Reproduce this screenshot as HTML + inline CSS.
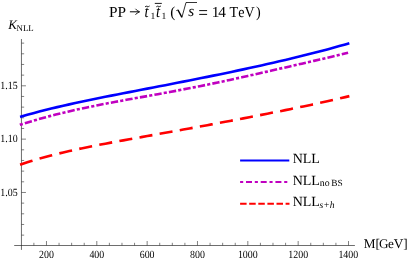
<!DOCTYPE html>
<html><head><meta charset="utf-8">
<style>
html,body{margin:0;padding:0;background:#fff;}
body{width:407px;height:260px;overflow:hidden;font-family:"Liberation Serif",serif;}
svg{display:block;position:absolute;left:0;top:0;will-change:transform;}
text{text-rendering:geometricPrecision;font-family:"Liberation Serif",serif;fill:#000;}
.tk{font-size:11px;}
.m{font-size:13px;}
.s{font-size:8.8px;}
.i{font-style:italic;}
.tt text{font-size:15.3px;}
.lg text{font-size:14px;}
.ml text{font-size:13.2px;}
.lg text.s{font-size:9.1px;}
.tt text.s{font-size:9.6px;}
</style></head><body>
<svg width="407" height="260" viewBox="0 0 407 260">
<rect width="407" height="260" fill="#fff"/>
<!-- axes -->
<g stroke="#222" stroke-width="0.66" fill="none">
<path d="M14.2 245.5H354.9"/>
<path d="M21.45 39V249.9"/>
</g>
<g stroke="#333" stroke-width="0.62" fill="none">
<path d="M33.88 245.5V242.80M46.47 245.5V241.00M59.05 245.5V242.80M71.64 245.5V242.80M84.22 245.5V242.80M96.81 245.5V241.00M109.39 245.5V242.80M121.98 245.5V242.80M134.56 245.5V242.80M147.15 245.5V241.00M159.73 245.5V242.80M172.32 245.5V242.80M184.90 245.5V242.80M197.48 245.5V241.00M210.07 245.5V242.80M222.65 245.5V242.80M235.24 245.5V242.80M247.82 245.5V241.00M260.41 245.5V242.80M272.99 245.5V242.80M285.58 245.5V242.80M298.16 245.5V241.00M310.75 245.5V242.80M323.33 245.5V242.80M335.92 245.5V242.80M348.50 245.5V241.00M21.45 235.13H24.15M21.45 224.47H24.15M21.45 213.80H24.15M21.45 203.13H24.15M21.45 192.47H25.95M21.45 181.80H24.15M21.45 171.13H24.15M21.45 160.46H24.15M21.45 149.80H24.15M21.45 139.13H25.95M21.45 128.46H24.15M21.45 117.80H24.15M21.45 107.13H24.15M21.45 96.46H24.15M21.45 85.80H25.95M21.45 75.13H24.15M21.45 64.46H24.15M21.45 53.79H24.15M21.45 43.13H24.15"/>
</g>
<!-- tick labels -->
<g class="tk" text-anchor="middle">
<text transform="translate(46.4 257.7) scale(0.9 1)">200</text>
<text transform="translate(96.8 257.7) scale(0.9 1)">400</text>
<text transform="translate(147.1 257.7) scale(0.9 1)">600</text>
<text transform="translate(197.5 257.7) scale(0.9 1)">800</text>
<text transform="translate(247.8 257.7) scale(0.9 1)">1000</text>
<text transform="translate(298.2 257.7) scale(0.9 1)">1200</text>
<text transform="translate(348.3 257.7) scale(0.9 1)">1400</text>
</g>
<g class="tk" text-anchor="end">
<text transform="translate(17.6 89.1) scale(0.9 1)">1.15</text>
<text transform="translate(17.6 142.4) scale(0.9 1)">1.10</text>
<text transform="translate(17.6 195.7) scale(0.9 1)">1.05</text>
</g>
<!-- curves -->
<g fill="none" stroke-width="2.6">
<path d="M21.3 116.61 L27.3 114.87 L33.3 113.20 L39.3 111.60 L45.3 110.05 L51.3 108.56 L57.3 107.12 L63.3 105.73 L69.3 104.37 L75.3 103.05 L81.3 101.76 L87.3 100.49 L93.3 99.25 L99.3 98.03 L105.3 96.82 L111.3 95.63 L117.3 94.45 L123.3 93.28 L129.3 92.11 L135.3 90.95 L141.3 89.80 L147.3 88.64 L153.3 87.48 L159.3 86.32 L165.3 85.16 L171.3 84.00 L177.3 82.83 L183.3 81.65 L189.3 80.46 L195.3 79.27 L201.3 78.07 L207.3 76.86 L213.3 75.64 L219.3 74.41 L225.3 73.17 L231.3 71.91 L237.3 70.64 L243.3 69.36 L249.3 68.06 L255.3 66.75 L261.3 65.43 L267.3 64.08 L273.3 62.72 L279.3 61.34 L285.3 59.93 L291.3 58.51 L297.3 57.06 L303.3 55.59 L309.3 54.09 L315.3 52.56 L321.3 50.99 L327.3 49.40 L333.3 47.77 L339.3 46.09 L345.3 44.38 L348.1 43.56" stroke="#0000ff" stroke-linecap="square"/>
<path d="M19.8 124.83 L25.8 122.97 L31.8 121.17 L37.8 119.42 L43.8 117.74 L49.8 116.13 L55.8 114.57 L61.8 113.08 L67.8 111.64 L73.8 110.26 L79.8 108.93 L85.8 107.65 L91.8 106.41 L97.8 105.20 L103.8 104.03 L109.8 102.89 L115.8 101.77 L121.8 100.67 L127.8 99.58 L133.8 98.50 L139.8 97.42 L145.8 96.35 L151.8 95.27 L157.8 94.18 L163.8 93.09 L169.8 91.98 L175.8 90.85 L181.8 89.71 L187.8 88.55 L193.8 87.38 L199.8 86.18 L205.8 84.96 L211.8 83.72 L217.8 82.47 L223.8 81.19 L229.8 79.90 L235.8 78.59 L241.8 77.27 L247.8 75.94 L253.8 74.59 L259.8 73.24 L265.8 71.88 L271.8 70.51 L277.8 69.14 L283.8 67.77 L289.8 66.40 L295.8 65.02 L301.8 63.65 L307.8 62.26 L313.8 60.88 L319.8 59.49 L325.8 58.08 L331.8 56.66 L337.8 55.21 L343.8 53.73 L348.1 52.64" stroke="#c000c0" stroke-dasharray="3.15 2.13 7.33 2.14"/>
<path d="M21.3 164.33 L27.3 162.32 L33.3 160.43 L39.3 158.65 L45.3 156.97 L51.3 155.38 L57.3 153.86 L63.3 152.42 L69.3 151.04 L75.3 149.72 L81.3 148.44 L87.3 147.20 L93.3 146.00 L99.3 144.83 L105.3 143.68 L111.3 142.56 L117.3 141.45 L123.3 140.35 L129.3 139.27 L135.3 138.19 L141.3 137.11 L147.3 136.04 L153.3 134.97 L159.3 133.90 L165.3 132.82 L171.3 131.74 L177.3 130.66 L183.3 129.57 L189.3 128.48 L195.3 127.38 L201.3 126.28 L207.3 125.17 L213.3 124.05 L219.3 122.93 L225.3 121.80 L231.3 120.66 L237.3 119.52 L243.3 118.37 L249.3 117.21 L255.3 116.05 L261.3 114.88 L267.3 113.71 L273.3 112.52 L279.3 111.33 L285.3 110.13 L291.3 108.91 L297.3 107.69 L303.3 106.44 L309.3 105.18 L315.3 103.90 L321.3 102.60 L327.3 101.28 L333.3 99.92 L339.3 98.53 L345.3 97.11 L348.1 96.43" stroke="#ff0000" stroke-linecap="square" stroke-dasharray="10.5 9.94"/>
</g>
<!-- legend -->
<g fill="none" stroke-width="1.9">
<path d="M240.1 160.45H289.3" stroke="#0000ff"/>
<path d="M240.1 182H287.6" stroke="#c000c0" stroke-dasharray="3.1 2.8 6 2.8"/>
<path d="M240.1 203.7H289.5" stroke="#ff0000" stroke-dasharray="6.5 2.6"/>
</g>
<g class="lg">
<text x="292.7" y="163.1">NLL</text>
<text x="292.7" y="185">NLL</text>
<text class="s" style="font-size:9.9px" x="319.7" y="186.4">no</text>
<text class="s" style="font-size:9.4px" x="331.2" y="186.4">BS</text>
<text x="292.7" y="206">NLL</text>
<text class="s i" style="font-size:9.6px" x="319.6" y="207.8">s+h</text>
</g>
<!-- axis labels -->
<text class="m i" x="8.3" y="28.8">K</text>
<text class="s" x="16.6" y="30.6">NLL</text>
<g class="ml"><text x="363.85" y="248.3">M</text><text x="375.5" y="248.3">[</text><text x="378.9" y="248.3">G</text><text x="388" y="248.3">e</text><text x="393.8" y="248.3">V</text><text x="403.3" y="248.3">]</text></g>
<!-- title -->
<g class="tt">
<text x="108.9" y="16.5">PP</text>
<path d="M129.9 11.8H138.6" stroke="#000" stroke-width="1" fill="none"/>
<path d="M135.5 8.8Q137 11 139.7 11.8Q137 12.6 135.5 14.8" stroke="#000" stroke-width="0.9" fill="none"/>
<text class="i" transform="translate(144.6 16.5) scale(0.95 1.1)">t</text>
<text class="s" x="150.6" y="18.7">1</text>
<text class="i" transform="translate(155.9 16.5) scale(0.95 1.1)">t</text>
<text class="s" x="161.6" y="18.7">1</text>
<path d="M145.1 6.8Q146.2 5.8 147.3 6.4T149.6 6" stroke="#000" stroke-width="0.9" fill="none"/>
<path d="M156.3 6.8Q157.4 5.8 158.5 6.4T160.9 6" stroke="#000" stroke-width="0.9" fill="none"/>
<path d="M154.8 3.4H161.8" stroke="#000" stroke-width="0.9" fill="none"/>
<text x="170.2" y="16.5">(</text>
<path d="M176.2 10.7L177.9 9.9" stroke="#000" stroke-width="0.7" fill="none"/>
<path d="M177.9 9.9L181.8 17.2" stroke="#000" stroke-width="1.4" fill="none"/>
<path d="M181.8 17.7L186 2.5H197" stroke="#000" stroke-width="0.8" fill="none"/>
<text class="i" x="188.3" y="16.4">s</text>
<path d="M199.2 10.6H207.1M199.2 14.4H207.1" stroke="#000" stroke-width="0.95" fill="none"/>
<text x="211.8" y="16.5">1</text>
<text x="218.3" y="16.5">4</text>
<text transform="translate(229.6 16.5) scale(0.92 1)">T</text>
<text transform="translate(238.2 16.5) scale(0.92 1)">e</text>
<text transform="translate(244.5 16.5) scale(0.92 1)">V</text>
<text transform="translate(255.9 16.5) scale(0.92 1)">)</text>
</g>
</svg>
</body></html>
